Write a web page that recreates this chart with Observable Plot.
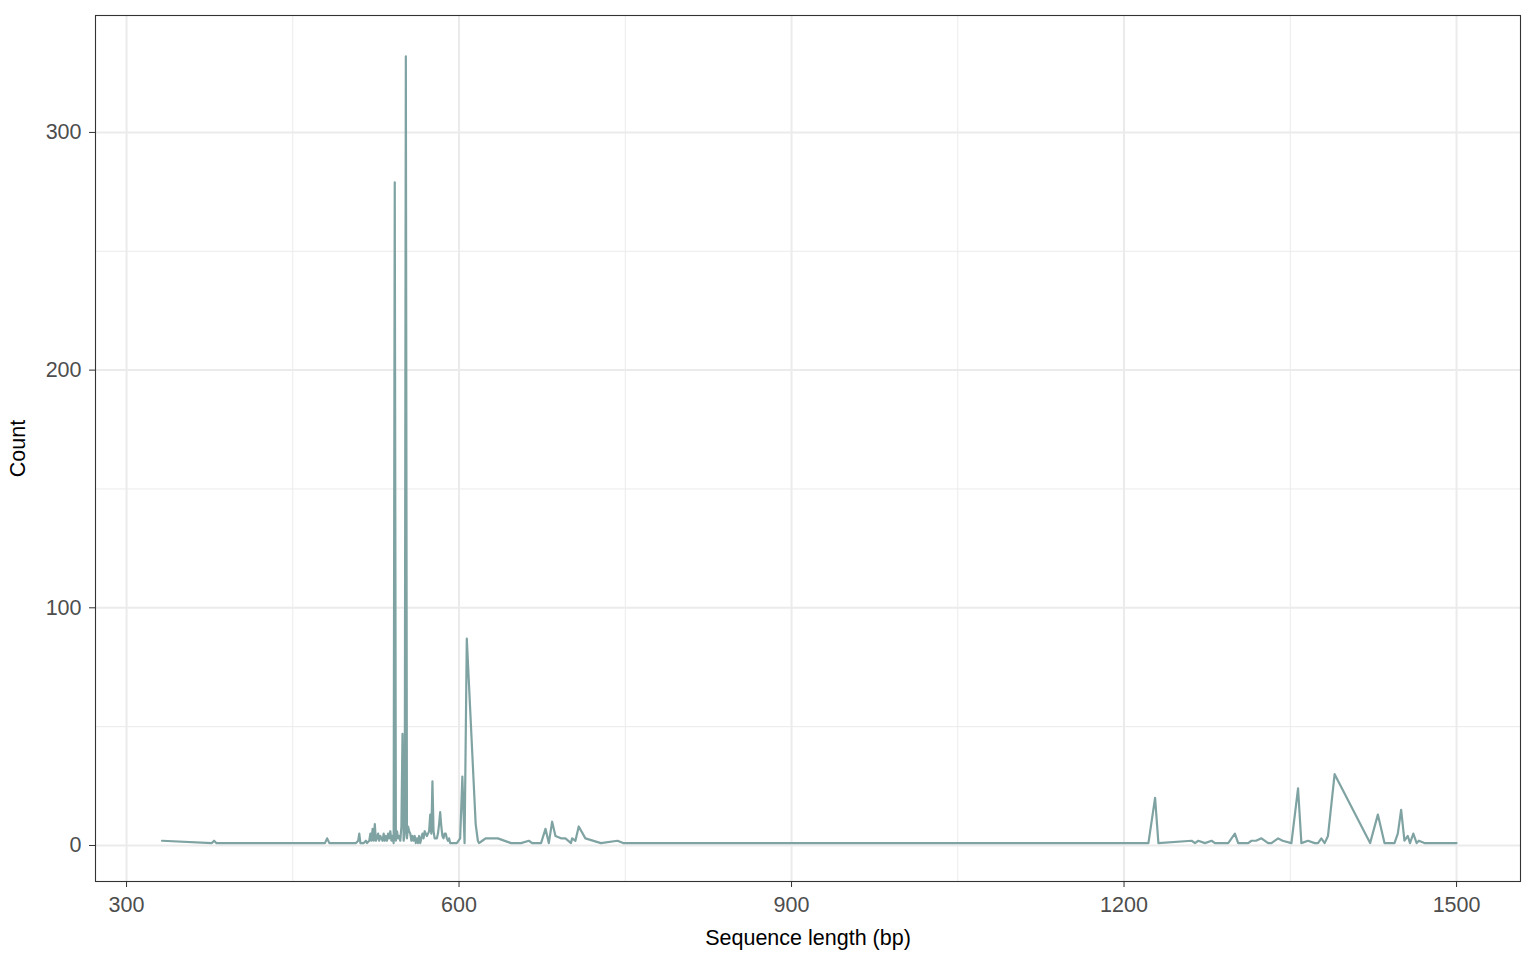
<!DOCTYPE html>
<html>
<head>
<meta charset="utf-8">
<script src="https://cdn.jsdelivr.net/npm/d3@7"></script>
<script src="https://cdn.jsdelivr.net/npm/@observablehq/plot@0.6"></script>
<style>
  html, body { margin: 0; padding: 0; background: #ffffff; }
  #chart { width: 1536px; height: 960px; }
</style>
</head>
<body>
<div id="chart"></div>
<script>
// Sequence lengths (bp) and their counts
const lengths = [
  332, 377, 379, 381, 479, 481, 483,
  505, 507, 509, 510, 511, 514, 516, 517, 519, 520, 521, 522, 523, 524, 525, 526, 527, 528, 529, 530,
  531, 532, 533, 534, 535, 536, 537, 538, 539, 540, 541, 542, 543, 544, 545, 546, 547, 548, 549, 550,
  551, 552, 553, 554, 555, 556, 557, 558, 559, 560, 561, 562, 563, 564, 565, 566, 567, 568, 569, 570,
  571, 572, 573, 574, 575, 576, 577, 578, 579, 580, 581, 582, 583, 584, 585, 586, 587, 588, 589, 590,
  591, 592, 598, 601, 603, 605, 607, 615, 617, 618, 621, 624, 635, 647, 656, 663, 666, 674, 678, 681,
  684, 687, 692, 696, 701, 702, 705, 708, 714, 728, 743, 748,
  1222, 1228, 1231, 1261, 1264, 1267, 1273, 1279, 1282, 1294, 1300, 1303, 1312, 1315, 1319, 1324,
  1330, 1333, 1339, 1343, 1351, 1357, 1360, 1366, 1372, 1375, 1378, 1381, 1384, 1390, 1422, 1429,
  1435, 1444, 1447, 1450, 1453, 1456, 1458, 1461, 1464, 1466, 1471, 1500
];
const counts = [
  2, 1, 2, 1, 1, 3, 1,
  1, 1, 2, 5, 1, 1, 2, 1, 2, 5, 2, 7, 2, 9, 2, 3, 5, 2, 4, 3,
  2, 5, 2, 4, 2, 5, 3, 6, 2, 4, 1, 279, 2, 6, 3, 4, 2, 8, 47, 2,
  5, 332, 3, 8, 6, 5, 2, 4, 2, 4, 1, 3, 1, 4, 1, 3, 5, 3, 6, 5,
  4, 5, 6, 13, 5, 27, 6, 3, 3, 3, 5, 9, 14, 8, 4, 3, 5, 5, 3, 2,
  3, 1, 1, 3, 29, 1, 87, 9, 2, 1, 2, 3, 3, 1, 1, 2, 1, 1, 7, 1,
  10, 4, 3, 3, 1, 3, 2, 8, 3, 1, 2, 1,
  1, 20, 1, 2, 1, 2, 1, 2, 1, 1, 5, 1, 1, 2, 2, 3,
  1, 1, 3, 2, 1, 24, 1, 2, 1, 1, 3, 1, 4, 30, 1, 13,
  1, 1, 5, 15, 2, 4, 1, 5, 1, 2, 1, 1
];

const xTicks = [300, 600, 900, 1200, 1500];
const xMinor = [450, 750, 1050, 1350];
const yTicks = [0, 100, 200, 300];
const yMinor = [50, 150, 250];

const xTitle = "Sequence length (bp)";
const yTitle = "Count";

const data = lengths.map((x, i) => ({length: x, count: counts[i]}));

const font = "'Liberation Sans', Arial, Helvetica, sans-serif";

const chart = Plot.plot({
  width: 1536,
  height: 960,
  marginLeft: 95,
  marginRight: 16,
  marginTop: 15,
  marginBottom: 79,
  style: {fontFamily: font, background: "#ffffff", overflow: "visible"},
  x: {domain: [272.0, 1557.7]},
  y: {domain: [-15.15, 349.2]},
  marks: [
    Plot.ruleX(xMinor, {stroke: "#EBEBEB", strokeWidth: 1}),
    Plot.ruleY(yMinor, {stroke: "#EBEBEB", strokeWidth: 1}),
    Plot.ruleX(xTicks, {stroke: "#EBEBEB", strokeWidth: 2}),
    Plot.ruleY(yTicks, {stroke: "#EBEBEB", strokeWidth: 2}),
    Plot.line(data, {x: "length", y: "count", stroke: "#7FA3A2", strokeWidth: 2.2, strokeLinejoin: "round"}),
    Plot.frame({stroke: "#333333", strokeWidth: 1.1}),
    Plot.axisX({ticks: xTicks, tickFormat: d3.format("d"), tickSize: 6, tickPadding: 9, stroke: "#333333", fill: "#4D4D4D", fontSize: 21.5, label: null}),
    Plot.axisY({ticks: yTicks, tickFormat: d3.format("d"), tickSize: 6, tickPadding: 8, stroke: "#333333", fill: "#4D4D4D", fontSize: 21.5, label: null}),
    Plot.text([xTitle], {frameAnchor: "bottom", dy: 57, fontSize: 21.5, fill: "#000000", lineAnchor: "middle", textAnchor: "middle"}),
    Plot.text([yTitle], {frameAnchor: "left", dx: -77, rotate: -90, fontSize: 21.5, fill: "#000000", lineAnchor: "middle", textAnchor: "middle"})
  ]
});

document.getElementById("chart").appendChild(chart);
</script>
</body>
</html>
